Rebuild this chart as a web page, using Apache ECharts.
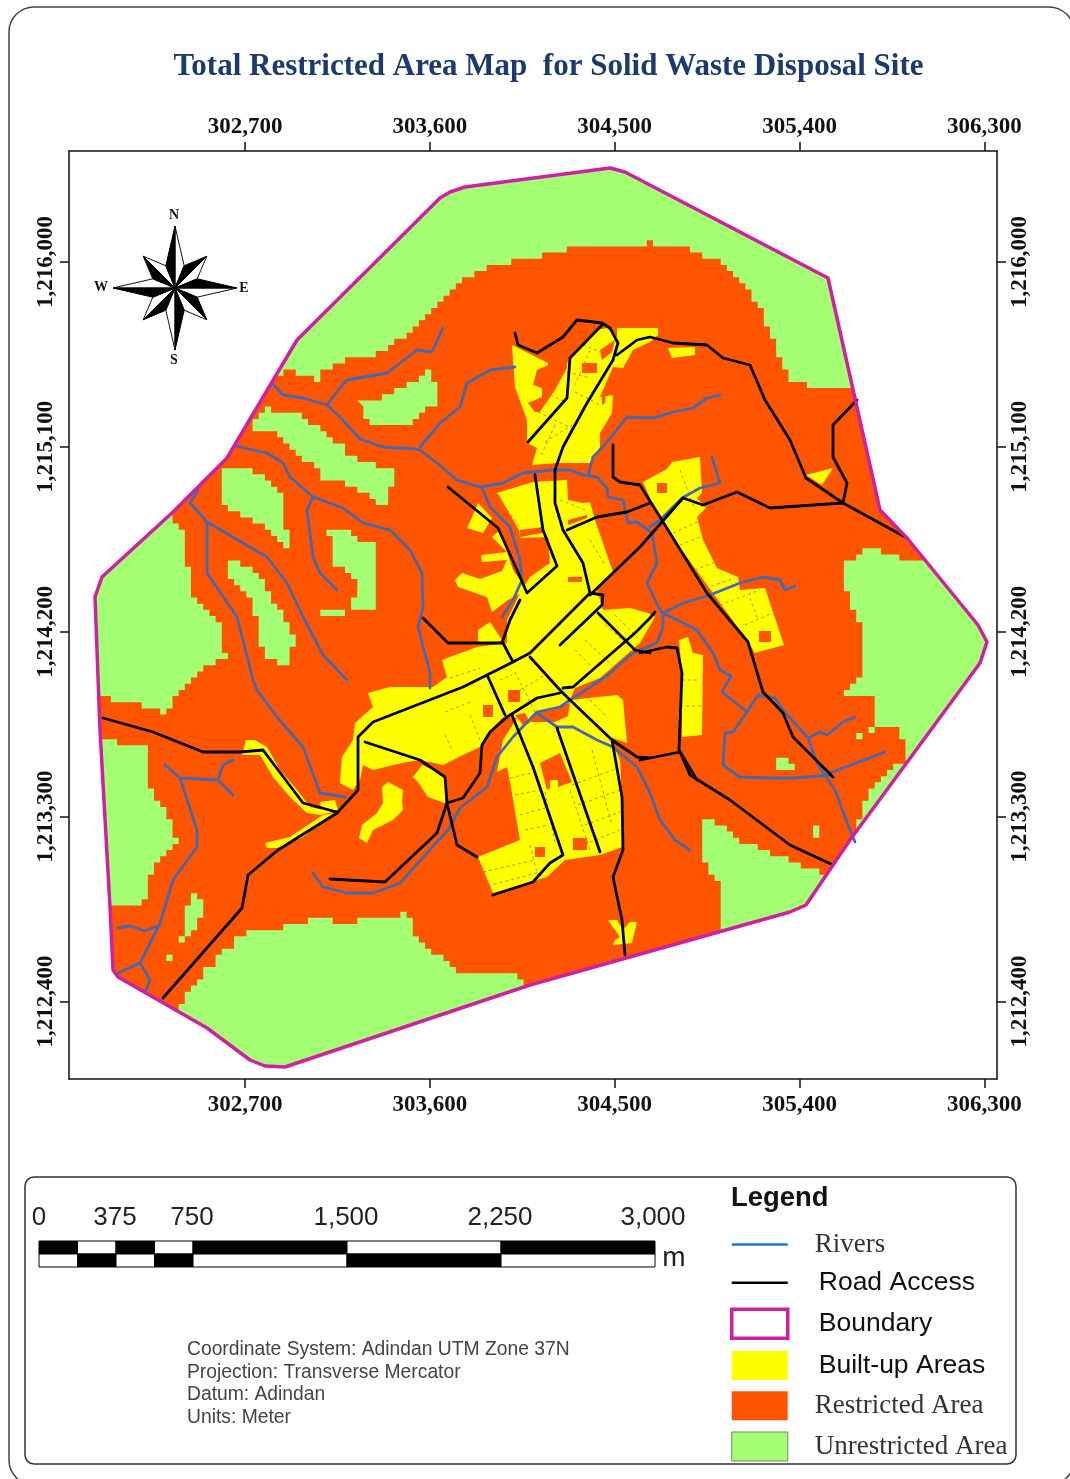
<!DOCTYPE html>
<html><head><meta charset="utf-8">
<style>html,body{margin:0;padding:0;background:#fff}#m{width:1070px;height:1479px}</style>
<script src="https://cdn.jsdelivr.net/npm/echarts@6/dist/echarts.min.js"></script>
</head><body><div id="m"></div>
<script>
// Map labels
const titleText = 'Total Restricted Area Map  for Solid Waste Disposal Site';
const eastingTicks = [302700, 303600, 304500, 305400, 306300];
const northingTicks = [1212400, 1213300, 1214200, 1215100, 1216000];
const scaleLabels = ['0', '375', '750', '1,500', '2,250', '3,000'];
const scaleLabelStops = [0, 375, 750, 1500, 2250, 3000];
const scaleStops = [0, 187.5, 375, 562.5, 750, 1500, 2250, 3000];
const projectionNotes = ['Coordinate System: Adindan UTM Zone 37N', 'Projection: Transverse Mercator', 'Datum: Adindan', 'Units: Meter'];

// Geometry traced from the sheet, in tracing units (flat u,v lists); trace2map turns them into metres.
const boundaryTrace = [610,168, 625,172, 828,278, 880,510, 907,538, 978,625, 987,642, 980,663, 850,840, 806,905, 790,912, 530,985, 285,1067, 265,1066, 250,1060, 207,1028, 118,977, 113,970, 110,907, 100,730, 95,597, 102,577, 173,512, 227,458, 272,382, 297,340, 440,198, 450,192, 465,187, 610,168];
const restrictedOutline = [270,380, 287,370, 317,380, 323,370, 347,358, 377,355, 397,340, 420,323, 441,300, 465,280, 490,265, 530,258, 560,250, 600,245, 650,243, 690,250, 720,262, 745,285, 760,310, 775,345, 790,382, 830,390, 856,385, 886,510, 912,538, 925,558, 897,558, 895,553, 883,553, 880,547, 870,547, 863,553, 850,560, 845,565, 845,583, 850,603, 857,623, 863,623, 863,672, 857,683, 850,690, 845,692, 845,697, 870,697, 875,705, 875,728, 897,730, 902,742, 908,742, 908,753, 902,763, 892,768, 875,785, 865,805, 857,825, 852,842, 832,878, 810,868, 775,855, 740,840, 720,825, 705,818, 700,850, 708,870, 718,885, 718,935, 530,992, 520,975, 460,972, 430,948, 417,938, 407,913, 390,918, 342,923, 317,918, 303,925, 247,931, 230,947, 207,970, 183,1000, 177,1015, 112,985, 106,970, 104,905, 138,905, 145,895, 152,867, 158,862, 165,853, 177,840, 170,817, 163,807, 153,790, 147,777, 145,748, 122,747, 120,742, 96,742, 92,697, 113,698, 113,703, 138,703, 140,708, 158,710, 162,717, 173,700, 183,690, 193,680, 202,668, 215,663, 227,657, 220,647, 220,623, 210,615, 202,603, 190,597, 189,567, 184,565, 183,527, 177,525, 172,508, 222,455];
const unrestrictedPatches = [
 [265,407, 272,413, 297,415, 308,420, 320,428, 330,440, 342,445, 350,457, 377,465, 397,472, 397,488, 390,490, 390,508, 378,508, 377,500, 360,492, 347,483, 323,477, 312,465, 297,452, 278,435, 250,427],
 [228,465, 247,470, 258,472, 272,487, 278,495, 290,497, 285,505, 285,527, 291,528, 291,547, 283,546, 278,537, 267,528, 253,522, 233,510, 220,497, 220,477],
 [228,560, 245,565, 257,573, 265,585, 272,600, 283,617, 290,630, 297,642, 291,653, 290,665, 283,665, 265,657, 258,627, 252,603, 240,587, 228,573],
 [329,527, 347,527, 357,540, 377,547, 377,565, 373,566, 373,608, 347,608, 358,593, 353,573, 335,563, 335,540, 329,537],
 [322,609, 342,609, 342,615, 322,615],
 [360,403, 378,400, 398,390, 428,370, 436,388, 436,405, 423,413, 405,427, 380,428, 365,418],
 [777,755, 784,757, 795,772, 777,772],
 [855,733, 862,733, 862,741, 855,741],
 [868,728, 875,728, 875,735, 868,735],
 [190,893, 195,896, 207,907, 205,913, 197,923, 190,937, 184,937, 185,917],
 [177,937, 184,937, 184,943, 177,943],
 [164,956, 172,956, 172,963, 164,963],
 [812,828, 819,828, 819,835, 812,835]
];
const builtUpBlocks = [
 [512,345, 548,363, 548,368, 557,380, 567,363, 577,350, 597,330, 607,328, 617,337, 617,328, 658,328, 658,335, 650,342, 633,350, 623,368, 613,367, 600,397, 613,395, 612,413, 600,433, 600,447, 590,463, 557,463, 532,465, 537,448, 527,443, 527,420, 515,387],
 [668,348, 695,347, 695,355, 672,358],
 [497,493, 533,482, 567,480, 568,500, 583,503, 590,502, 595,520, 613,572, 597,590, 603,610, 630,608, 648,613, 655,617, 640,643, 632,650, 600,678, 575,688, 570,700, 617,695, 623,700, 627,743, 610,737, 620,760, 622,800, 622,847, 600,855, 565,860, 547,877, 493,893, 478,857, 520,840, 510,782, 507,767, 497,772, 503,740, 517,718, 503,717, 488,733, 480,747, 463,755, 443,765, 420,760, 402,763, 373,770, 363,765, 360,780, 353,790, 340,783, 342,757, 353,740, 355,723, 373,707, 368,693, 390,687, 433,687, 447,677, 442,660, 477,647, 507,643, 507,620, 520,593, 530,577, 550,563, 548,537, 520,538, 519,530, 500,497],
 [478,503, 492,518, 483,533, 467,528, 473,515],
 [492,537, 500,530, 513,570, 527,590, 508,600, 492,612, 487,597, 458,587, 455,580, 462,573, 480,579, 502,571, 507,560, 482,562, 481,555, 507,552],
 [478,630, 490,622, 502,640, 497,643, 478,642],
 [382,787, 388,782, 403,790, 402,802, 403,810, 393,820, 373,830, 367,843, 359,838, 362,825, 377,813, 383,803],
 [422,765, 440,773, 445,780, 445,803, 428,797, 418,782, 413,777],
 [246,740, 255,740, 267,747, 280,770, 297,790, 310,807, 333,812, 320,815, 307,813, 290,797, 273,777, 260,755, 242,755],
 [265,843, 290,837, 323,815, 335,813, 303,837, 277,848, 267,848],
 [320,802, 335,800, 338,810, 322,811],
 [643,482, 667,469, 672,462, 700,457, 702,493, 697,498, 706,508, 697,517, 703,540, 717,568, 738,577, 740,590, 765,588, 784,645, 755,653, 747,640, 665,527, 650,498],
 [679,640, 688,637, 693,653, 703,655, 702,735, 682,737, 682,673],
 [806,475, 833,468, 822,485],
 [608,920, 617,920, 623,930, 630,922, 637,922, 632,943, 613,945, 615,940, 620,937]
];
const restrictedPatches = [
 [537,370, 548,365, 567,363, 567,368, 555,390, 540,412, 535,412, 528,403, 542,397, 542,388, 533,385],
 [582,363, 597,363, 597,373, 582,373],
 [600,350, 615,340, 612,352, 602,360],
 [602,393, 606,392, 605,403, 602,405],
 [520,530, 543,527, 543,533, 520,537],
 [568,577, 582,577, 582,582, 568,582],
 [568,520, 587,515, 587,518, 568,525],
 [508,690, 520,690, 520,702, 508,702],
 [483,705, 493,705, 493,717, 483,717],
 [535,847, 545,847, 545,857, 535,857],
 [573,838, 587,838, 587,850, 573,850],
 [540,763, 560,753, 572,782, 558,787, 558,780, 550,780, 550,788, 547,790],
 [515,715, 525,713, 530,723, 523,725],
 [530,722, 537,712, 570,703, 568,716, 555,722, 540,722],
 [657,483, 667,483, 667,493, 657,493],
 [759,631, 771,631, 771,642, 759,642]
];
const streetCourses = [
 [510,778, 535,772], [515,795, 540,790], [520,815, 545,808], [525,830, 548,825], [483,872, 535,860], [488,886, 540,872], [530,845, 540,885],
 [572,785, 618,768], [578,805, 620,790], [585,825, 620,812], [590,842, 620,830], [570,790, 590,850], [545,792, 555,842], [592,750, 612,825],
 [450,678, 480,668], [445,712, 470,702], [500,680, 512,675], [515,672, 535,712], [520,690, 545,675], [445,735, 452,750], [470,715, 482,745],
 [575,650, 590,665], [605,625, 635,650], [585,640, 612,665], [615,615, 640,640], [590,700, 605,715],
 [572,340, 600,352], [567,372, 590,378], [545,392, 565,402], [538,412, 575,430], [545,442, 572,425], [575,392, 600,405], [590,350, 575,385], [555,425, 540,458],
 [500,500, 522,530], [560,500, 585,510], [590,540, 605,565], [572,610, 560,625],
 [673,533, 702,520], [680,545, 705,535], [695,570, 720,560], [700,590, 735,578], [720,605, 760,590], [745,625, 780,610], [680,470, 695,510], [750,598, 758,620],
 [682,680, 700,680], [680,706, 702,706]
];
const riverCourses = [
 [272,383, 283,395, 303,398, 327,405, 340,417, 360,439, 383,447, 415,449, 420,450, 437,463, 457,480, 480,487, 503,483, 523,473, 553,470, 570,470, 583,475, 597,477, 607,488, 608,497, 623,500, 628,523, 637,522, 652,533, 657,563, 647,583, 660,610, 663,613, 697,630, 713,653, 720,670, 731,676, 722,692, 747,712, 733,732, 725,733, 723,765, 740,777, 770,778, 795,778, 830,775],
 [747,712, 758,695, 775,698, 783,710, 808,738, 817,763, 830,773, 885,752],
 [808,738, 820,732, 827,735, 843,722, 855,717],
 [817,763, 835,790, 848,825, 855,842],
 [795,586, 785,590, 780,580, 763,577, 740,583, 710,595, 683,603, 663,613, 663,627, 657,643, 640,650, 630,655, 608,675, 590,687, 570,700, 560,707, 537,712, 513,737, 497,757, 487,787, 460,808, 448,830, 427,853, 400,883, 373,893, 347,893, 323,887, 313,873],
 [537,713, 557,727, 573,727, 597,740, 613,747, 637,767, 650,793, 660,820, 675,840, 690,850],
 [482,488, 490,507, 500,517, 510,527, 520,560, 522,580, 513,600, 502,617],
 [588,475, 593,457, 603,447, 627,417, 653,418, 673,412, 693,408, 707,398, 720,395],
 [420,447, 440,423, 460,407, 467,383, 490,370, 515,367],
 [327,405, 338,390, 347,380, 387,373, 417,350, 432,352, 443,328],
 [712,457, 720,483, 700,488, 682,498, 660,520, 650,527],
 [235,446, 267,453, 283,463, 290,477, 313,497, 343,508, 363,523, 390,530, 410,550, 422,573, 423,607, 418,627, 430,673, 430,688],
 [313,497, 307,510, 313,557, 320,573, 337,590],
 [198,490, 190,503, 207,522, 243,543, 267,557, 287,583, 303,617, 323,655, 347,680],
 [207,522, 207,573, 237,617, 253,680, 257,690, 277,717, 303,747, 320,793, 345,797],
 [165,765, 180,778, 197,830, 197,847, 173,880, 160,923, 140,963, 118,973],
 [180,778, 218,780, 223,765, 233,760],
 [218,780, 233,795],
 [118,928, 130,926, 145,931, 160,925],
 [140,963, 150,980, 145,993]
];
const roadCourses = [
 [163,998, 242,908, 248,875, 278,850, 337,813, 358,790, 358,737, 373,722, 463,687, 513,662, 530,653, 590,593, 603,595, 602,605, 560,645],
 [590,593, 583,563, 563,530, 555,503, 555,470, 563,447, 587,403, 613,360, 618,343, 610,328, 602,323, 577,320, 563,337, 537,353, 518,345, 515,333],
 [602,325, 570,358, 567,398, 528,442],
 [617,355, 637,340, 650,337, 673,343, 707,345, 723,358, 750,365, 765,400, 790,440, 806,478, 843,503],
 [535,475, 543,530, 557,566, 527,593],
 [448,487, 498,528, 517,570, 527,593],
 [503,643, 513,662],
 [423,618, 448,643, 502,643, 510,620, 520,600],
 [567,530, 597,517, 627,512, 650,503],
 [613,445, 613,477, 620,482, 640,485, 660,517, 707,593, 748,642, 763,692, 783,713, 793,737, 833,777],
 [590,595, 640,547, 683,498, 703,505, 737,492, 770,508, 843,503, 907,538],
 [857,400, 833,425, 833,457, 847,483, 843,503],
 [530,657, 560,690, 570,700, 612,740, 637,757, 650,758, 680,752, 690,775, 730,800, 790,845, 833,865],
 [640,653, 667,647, 677,648, 682,673, 679,750, 697,780],
 [680,752, 640,760],
 [563,688, 573,687, 635,633, 650,618, 655,612],
 [507,717, 537,698, 560,693],
 [507,717, 490,732, 482,745, 480,773, 463,798, 447,803, 437,833, 385,882, 330,879],
 [365,742, 420,760, 445,777, 447,803, 457,845, 477,857],
 [488,677, 505,715],
 [512,715, 533,767, 563,855, 550,863, 533,882, 493,895],
 [557,728, 600,852],
 [612,740, 622,797, 623,850, 613,877, 622,920, 625,955],
 [598,613, 635,650, 650,653],
 [103,718, 153,732, 203,752, 240,752, 263,750, 303,803, 337,812]
];

// Sheet calibration: tracing unit to metres, pinned on the printed graticule
const METRES_PER_UNIT = 900 / 184.85;
const E = u => 302700 + (u - 245) * METRES_PER_UNIT;
const N = v => 1216000 - (v - 262) * METRES_PER_UNIT;
const trace2map = flat => { const o = []; for (let i = 0; i < flat.length; i += 2) o.push([E(flat[i]), N(flat[i + 1])]); return o; };
const commas = v => String(v).replace(/\B(?=(\d{3})+$)/g, ',');

const GREEN = '#a5ff72', ORANGE = '#ff5500', YELLOW = '#ffff00', MAGENTA = '#cf1fa5', RIVER = '#4868ad', SERIF = '"Liberation Serif","Times New Roman",serif', SANS = '"Liberation Sans",Arial,sans-serif';
const RASTER_PX = 6.16; // 30 m cells of the source raster at this sheet's scale

function stairs(pts, cell) {
  const out = [];
  const push = (x, y) => { const q = [Math.round(x / cell) * cell, Math.round(y / cell) * cell];
    const l = out[out.length - 1];
    if (!l) { out.push(q); return; }
    if (l[0] === q[0] && l[1] === q[1]) return;
    if (l[0] !== q[0] && l[1] !== q[1]) out.push([q[0], l[1]]);
    out.push(q); };
  for (let i = 0; i < pts.length; i++) {
    const a = pts[i], b = pts[(i + 1) % pts.length];
    const n = Math.max(1, Math.ceil(Math.hypot(b[0] - a[0], b[1] - a[1]) / (cell / 3)));
    for (let j = 0; j < n; j++) push(a[0] + (b[0] - a[0]) * j / n, a[1] + (b[1] - a[1]) * j / n);
  }
  return out;
}
const boundaryMap = trace2map(boundaryTrace);
function areaSeries(name, traces, fill, z, opt) {
  opt = opt || {};
  const polys = traces.map(trace2map);
  return { name, type: 'custom', coordinateSystem: 'cartesian2d', xAxisIndex: 0, yAxisIndex: 0, z, clip: false, silent: true,
    itemStyle: { color: fill === 'none' ? '#fff' : fill },
    encode: { x: 0, y: 1 },
    data: polys.map((p, i) => [p[0][0], p[0][1], i]),
    renderItem(params, api) {
      let pts = polys[api.value(2)].map(p => api.coord(p));
      if (opt.cell) pts = stairs(pts, opt.cell);
      const el = { type: 'polygon', shape: { points: pts }, style: { fill: fill === 'none' ? null : fill, stroke: opt.stroke || null, lineWidth: opt.lw || 0, lineJoin: 'round' } };
      if (opt.cell) el.clipPath = { type: 'polygon', shape: { points: boundaryMap.map(p => api.coord(p)) } };
      return el;
    } };
}
function lineSeries(name, courses, color, width, z, type) {
  const data = [];
  courses.forEach((c, i) => { if (i) data.push(['-', '-']); trace2map(c).forEach(p => data.push(p)); });
  return { name, type: 'line', xAxisIndex: 0, yAxisIndex: 0, data, z, silent: true, symbol: 'none', showSymbol: false, connectNulls: false, animation: false,
    lineStyle: { color, width, join: 'round', cap: type ? 'butt' : 'round', type: type || 'solid' }, itemStyle: { color } };
}

const tickFont = { fontFamily: SERIF, fontWeight: 'bold', fontSize: 23, color: '#111' };
const axisBase = {
  axisLine: { show: true, onZero: false, lineStyle: { color: '#111', width: 1.5 } },
  splitLine: { show: false }, scale: true
};
const xAxisAt = (position, margin) => Object.assign({}, axisBase, { type: 'value', position, min: E(69), max: E(997),
  axisTick: { show: true, length: 9, lineStyle: { color: '#111', width: 1.5 }, customValues: eastingTicks },
  axisLabel: Object.assign({ show: true, margin, hideOverlap: false, showMinLabel: true, showMaxLabel: true, customValues: eastingTicks, formatter: commas }, tickFont) });
const yAxisAt = (position, margin) => Object.assign({}, axisBase, { type: 'value', position, min: N(1079), max: N(151),
  axisTick: { show: true, length: 9, lineStyle: { color: '#111', width: 1.5 }, customValues: northingTicks },
  axisLabel: Object.assign({ show: true, margin, rotate: 90, hideOverlap: false, customValues: northingTicks, formatter: commas }, tickFont) });

// compass rose
const roseC = [175, 288], roseEls = [];
for (let k = 0; k < 8; k++) {
  const a = k * Math.PI / 4, R = k % 2 ? 45 : 62, v = 24;
  const P = (r, t) => [roseC[0] + r * Math.sin(t), roseC[1] - r * Math.cos(t)];
  const tip = P(R, a), vl = P(v, a - Math.PI / 8), vr = P(v, a + Math.PI / 8);
  roseEls.push({ type: 'polygon', z: 50, shape: { points: [roseC, tip, vr] }, style: { fill: '#fff', stroke: '#111', lineWidth: 1 } });
  roseEls.push({ type: 'polygon', z: 51, shape: { points: [roseC, tip, vl] }, style: { fill: '#000', stroke: '#000', lineWidth: 1 } });
}
const txt = (text, x, y, font, extra) => ({ type: 'text', z: 60, x, y, style: Object.assign({ text, font, fill: '#111', verticalAlign: 'middle' }, extra || {}) });
const roseFont = '14px ' + SERIF;
[['N', 174, 215], ['S', 174, 360], ['W', 101, 287], ['E', 244, 288]].forEach(l => roseEls.push(txt(l[0], l[1], l[2], 'bold ' + roseFont, { align: 'center' })));

// scale bar
const barX = m => 39 + m * (616 / 3000), barEls = [];
for (let i = 0; i < scaleStops.length - 1; i++) {
  const x0 = barX(scaleStops[i]), w = barX(scaleStops[i + 1]) - x0, top = i % 2 === 0;
  barEls.push({ type: 'rect', z: 55, shape: { x: x0, y: 1241, width: w, height: 13 }, style: { fill: top ? '#000' : '#fff', stroke: '#000', lineWidth: 1 } });
  barEls.push({ type: 'rect', z: 55, shape: { x: x0, y: 1254, width: w, height: 13 }, style: { fill: top ? '#fff' : '#000', stroke: '#000', lineWidth: 1 } });
}
scaleLabelStops.forEach((m, i) => barEls.push(txt(scaleLabels[i], barX(m) - (i === 5 ? 2 : 0) - (i && i < 5 ? 1 : 0), 1218, '26px ' + SANS, { align: 'center', fill: '#222' })));
barEls.push(txt('m', 674, 1258, '28px ' + SANS, { align: 'center', fill: '#222' }));

const noteEls = projectionNotes.map((t, i) => txt(t, 187, 1350 + i * 22.5, '19.3px ' + SANS, { align: 'left', fill: '#444' }));

const serifItem = { fontFamily: SERIF, fontSize: 27, lineHeight: 27, color: '#333', padding: [0, 0, 0, 22] };
const option = {
  animation: false,
  backgroundColor: '#fff',
  title: { text: titleText, left: 543.5, top: 46, textAlign: 'center', textStyle: { fontFamily: SERIF, fontWeight: 'bold', fontSize: 31, color: '#1b3a72' } },
  grid: { left: 69, top: 151, width: 928, height: 928, containLabel: false },
  xAxis: [xAxisAt('bottom', 15), xAxisAt('top', 12)],
  yAxis: [yAxisAt('left', 11), yAxisAt('right', 12)],
  legend: {
    left: 725, top: 1226, orient: 'vertical', itemWidth: 56, itemHeight: 29, itemGap: 11.2, selectedMode: false,
    textStyle: { fontSize: 26.5, lineHeight: 27, color: '#111', fontFamily: SANS, padding: [0, 0, 0, 26] },
    data: [
      { name: 'Rivers', icon: 'path://M0 0H100V4.5H0Z', textStyle: serifItem, itemStyle: { color: '#1f78c8' } },
      { name: 'Road Access', icon: 'path://M0 0H100V4.5H0Z', itemStyle: { color: '#000' } },
      { name: 'Boundary', icon: 'rect', itemStyle: { color: '#fff', borderColor: MAGENTA, borderWidth: 3.5 } },
      { name: 'Built-up Areas', icon: 'rect', itemStyle: { color: YELLOW, borderWidth: 0 } },
      { name: 'Restricted Area', icon: 'rect', textStyle: serifItem, itemStyle: { color: ORANGE, borderWidth: 0 } },
      { name: 'Unrestricted Area', icon: 'rect', textStyle: serifItem, itemStyle: { color: GREEN, borderColor: '#6f8f62', borderWidth: 1 } }
    ]
  },
  series: [
    areaSeries('Unrestricted Area', [boundaryTrace], GREEN, 2),
    areaSeries('Restricted Area', [restrictedOutline], ORANGE, 3, { cell: RASTER_PX }),
    areaSeries('Unrestricted Area', unrestrictedPatches, GREEN, 4, { cell: RASTER_PX }),
    areaSeries('Built-up Areas', builtUpBlocks, YELLOW, 5),
    areaSeries('Restricted Area', restrictedPatches, ORANGE, 6),
    lineSeries('Streets', streetCourses, '#a89a10', 1, 6.5, [3, 3]),
    lineSeries('Rivers', riverCourses, RIVER, 2.8, 7),
    lineSeries('Road Access', roadCourses, '#000', 2.8, 8),
    areaSeries('Boundary', [boundaryTrace], 'none', 9, { stroke: MAGENTA, lw: 3.5 })
  ],
  graphic: { elements: [
    { type: 'rect', z: -5, shape: { x: 9, y: 7, width: 1065, height: 1478, r: 25 }, style: { fill: '#fff', stroke: '#444', lineWidth: 1.5 } },
    { type: 'rect', z: 1, shape: { x: 25, y: 1177, width: 991, height: 287, r: 9 }, style: { fill: '#fff', stroke: '#333', lineWidth: 1.5 } },
    txt('Legend', 731, 1198, 'bold 27.4px ' + SANS, { align: 'left', fill: '#111' })
  ].concat(roseEls, barEls, noteEls) }
};
const chart = echarts.init(document.getElementById('m'), null, { renderer: 'canvas' });
chart.setOption(option);
</script></body></html>
